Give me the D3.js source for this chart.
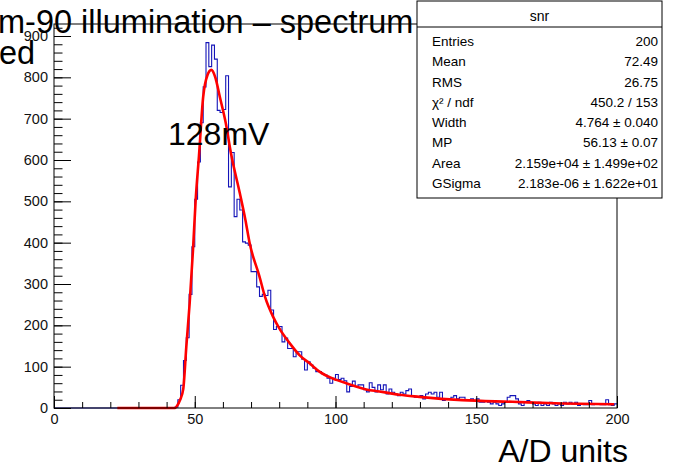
<!DOCTYPE html>
<html>
<head>
<meta charset="utf-8">
<style>
body { margin: 0; background: #fff; }
svg text { font-family: "Liberation Sans", Arial, Helvetica, sans-serif; }
.axis path, .axis line { stroke: #000; }
.axis text { fill: #111; }
</style>
</head>
<body>
<svg id="chart" width="677" height="467"></svg>
<script src="https://d3js.org/d3.v7.min.js"></script>
<script>
// histogram: 1-unit bins on [0,200), counts start at bin 43 (earlier bins are empty)
let firstBin = 43;
let counts = [
  2, 20, 55, 115, 170, 275, 390, 505, 595, 690,          // 43-52
  777, 884, 826, 878, 844, 720, 715, 722, 804, 535,      // 53-62
  618, 463, 505, 479, 402, 399, 394, 330, 330, 293,      // 63-72
  270, 275, 272, 285, 237, 190, 197, 197, 160, 169,      // 73-82
  144, 144, 124, 136, 136, 118, 92, 112, 104, 96,        // 83-92
  88, 88, 83, 80, 72, 60, 72, 81, 69, 72,                // 93-102
  66, 39, 52, 65, 52, 56, 56, 44, 39, 61,                // 103-112
  50, 39, 56, 44, 56, 34, 46, 38, 34, 30,                // 113-122
  38, 34, 42, 46, 30, 26, 26, 30, 22, 34,                // 123-132
  38, 34, 38, 26, 38, 18, 22, 22, 26, 30,                // 133-142
  22, 26, 26, 18, 18, 22, 18, 22, 14, 14,                // 143-152
  18, 14, 10, 14, 10, 6, 10, 14, 26, 30,                 // 153-162
  30, 22, 10, 6, 14, 18, 14, 10, 6, 14,                  // 163-172
  6, 10, 6, 14, 10, 6, 10, 6, 14, 10,                   // 173-182
  14, 10, 14, 6, 10, 8, 8, 18, 8, 10,                    // 183-192
  10, 8, 8, 20, 8, 6, 10                                 // 193-199
];
// fitted Landau (x Gauss) curve
let fitX = [22.5, 42.9, 43.8, 44.8, 45.9, 47.0, 48.2, 49.4, 50.3, 51.5, 53.0, 54.5, 55.9,
            57.3, 58.9, 61.0, 62.9, 66.0, 68.0, 69.5, 73.0, 75.0, 77.8, 80.1, 83.7, 87.2,
            90.8, 94.3, 100.3, 103.8, 110.9, 115.6, 119.1, 122.7, 129.8, 145.0, 162.8, 180.5, 199.0];
let fitY = [0, 0, 6, 20, 45, 148, 254, 385, 500, 610, 753, 805, 818,
            800, 753, 690, 615, 520, 455, 399, 318, 268, 221, 192, 157, 128,
            108, 88, 68, 60, 45, 40, 36, 32, 27, 19, 15, 11, 9];

let xMajor = [0, 50, 100, 150, 200];
let yMajor = [0, 100, 200, 300, 400, 500, 600, 700, 800, 900];

let statsTitle = "snr";
let statsNames = ["Entries", "Mean", "RMS", "χ² / ndf", "Width", "MP", "Area", "GSigma"];
let statsValues = ["200", "72.49", "26.75", "450.2 / 153", "4.764 ± 0.040", "56.13 ± 0.07",
                   "2.159e+04 ± 1.499e+02", "2.183e-06 ± 1.622e+01"];

let titleLine1 = "m-90 illumination – spectrum";
let titleLine2 = "ed";
let fitLabel = "128mV";
let xTitle = "A/D units";

let frame = {left: 54, right: 617, top: 24, bottom: 408};
let svg = d3.select("#chart");

let x = d3.scaleLinear().domain([0, 200]).range([frame.left, frame.right]);
let y = d3.scaleLinear().domain([0, 900]).range([frame.bottom, 36]);

// histogram outline
let bins = d3.range(0, 200).map(i => {
    let k = i - firstBin;
    return {lo: i, v: (k >= 0 && k < counts.length) ? counts[k] : 0};
});
bins.push({lo: 200, v: bins[bins.length - 1].v});
svg.append("path")
    .datum(bins)
    .attr("fill", "none")
    .attr("stroke", "#1414b8")
    .attr("stroke-width", 1.1)
    .attr("d", d3.line().x(d => x(d.lo)).y(d => y(d.v)).curve(d3.curveStepAfter));

// fit curve
svg.append("path")
    .datum(fitX.map((v, i) => [v, fitY[i]]))
    .attr("fill", "none")
    .attr("stroke", "#ff0000")
    .attr("stroke-width", 2.6)
    .attr("stroke-linejoin", "round")
    .attr("d", d3.line().x(d => x(d[0])).y(d => y(d[1])).curve(d3.curveMonotoneX));

// frame
svg.append("rect")
    .attr("x", frame.left).attr("y", frame.top)
    .attr("width", frame.right - frame.left)
    .attr("height", frame.bottom - frame.top)
    .attr("fill", "none").attr("stroke", "#000").attr("stroke-width", 1);

// y axis: minor then major ticks, pointing into the frame
svg.append("g")
    .attr("class", "axis")
    .attr("transform", "translate(" + frame.left + ",0)")
    .call(d3.axisLeft(y).tickValues(d3.range(0, 921, 20)).tickSize(-8.5).tickSizeOuter(0).tickFormat(""))
    .call(g => g.select(".domain").remove());
svg.append("g")
    .attr("class", "axis")
    .attr("transform", "translate(" + frame.left + ",0)")
    .call(d3.axisLeft(y).tickValues(yMajor).tickSize(-17).tickSizeOuter(0).tickPadding(6))
    .call(g => g.select(".domain").remove())
    .call(g => g.selectAll("text").attr("font-size", 14.5));

// x axis
svg.append("g")
    .attr("class", "axis")
    .attr("transform", "translate(0," + frame.bottom + ")")
    .call(d3.axisBottom(x).tickValues(d3.range(0, 201, 10)).tickSize(-6).tickSizeOuter(0).tickFormat(""))
    .call(g => g.select(".domain").remove());
svg.append("g")
    .attr("class", "axis")
    .attr("transform", "translate(0," + frame.bottom + ")")
    .call(d3.axisBottom(x).tickValues(xMajor).tickSize(-12).tickSizeOuter(0).tickPadding(6))
    .call(g => g.select(".domain").remove())
    .call(g => g.selectAll("text").attr("font-size", 14.5));

// titles / labels
svg.append("text").attr("x", -2).attr("y", 33).attr("font-size", 32.5).text(titleLine1);
svg.append("text").attr("x", -1).attr("y", 64).attr("font-size", 32.5).text(titleLine2);
svg.append("text").attr("x", 168).attr("y", 145).attr("font-size", 32).text(fitLabel);
svg.append("text").attr("x", 628).attr("y", 462).attr("font-size", 32)
    .attr("text-anchor", "end").text(xTitle);

// stats box
let box = {x: 417, y: 1, w: 245, h: 197, head: 26};
let stats = svg.append("g");
stats.append("rect")
    .attr("x", box.x).attr("y", box.y).attr("width", box.w).attr("height", box.h)
    .attr("fill", "#fff").attr("stroke", "#000").attr("stroke-width", 1);
stats.append("line")
    .attr("x1", box.x).attr("x2", box.x + box.w)
    .attr("y1", box.y + box.head).attr("y2", box.y + box.head)
    .attr("stroke", "#000");
stats.append("text")
    .attr("x", box.x + box.w / 2).attr("y", box.y + 20)
    .attr("text-anchor", "middle").attr("font-size", 14).text(statsTitle);
let rowY = d3.scaleLinear().domain([0, statsNames.length - 1]).range([46, 188]);
stats.selectAll(".sname").data(statsNames).join("text")
    .attr("class", "sname")
    .attr("x", box.x + 15).attr("y", (d, i) => rowY(i))
    .attr("font-size", 13.5).text(d => d);
stats.selectAll(".sval").data(statsValues).join("text")
    .attr("class", "sval")
    .attr("x", box.x + box.w - 4).attr("y", (d, i) => rowY(i))
    .attr("text-anchor", "end").attr("font-size", 13.5).text(d => d);
</script>
</body>
</html>
